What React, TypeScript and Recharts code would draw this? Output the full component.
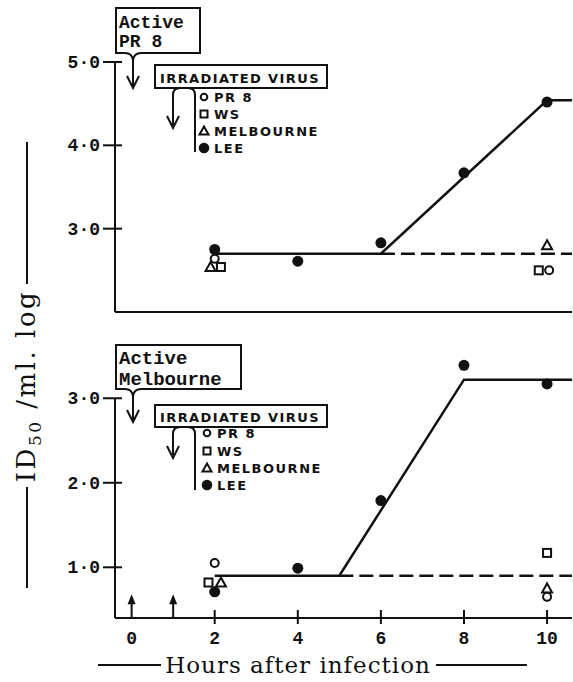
import React from 'react';
import { ComposedChart, Line, Scatter, XAxis, YAxis, ReferenceLine } from 'recharts';

// hours after infection
const hourTicks = [0, 2, 4, 6, 8, 10];
const arrowHours = [0, 1];

// top panel - active PR 8 (log ID50/ml)
const topTicks = [3, 4, 5];
const topLeeHours = [2, 4, 6, 8, 10];
const topLeeLog = [2.75, 2.61, 2.83, 3.67, 4.52];
const topPr8Hours = [2, 10.05];
const topPr8Log = [2.64, 2.5];
const topWsHours = [2.15, 9.8];
const topWsLog = [2.54, 2.5];
const topMelbHours = [1.9, 10];
const topMelbLog = [2.54, 2.8];
const topFitHours = [2, 6, 10, 10.6];
const topFitLog = [2.7, 2.7, 4.54, 4.54];
const topBaseHours = [6, 10.6];
const topBaseLog = [2.7, 2.7];

// bottom panel - active Melbourne
const botTicks = [1, 2, 3];
const botLeeHours = [2, 4, 6, 8, 10];
const botLeeLog = [0.71, 0.99, 1.79, 3.39, 3.17];
const botPr8Hours = [2, 10];
const botPr8Log = [1.05, 0.65];
const botWsHours = [1.85, 10];
const botWsLog = [0.82, 1.17];
const botMelbHours = [2.15, 10];
const botMelbLog = [0.82, 0.75];
const botFitHours = [2, 5, 8, 10.6];
const botFitLog = [0.9, 0.9, 3.22, 3.22];
const botBaseHours = [5, 10.6];
const botBaseLog = [0.9, 0.9];

const legendNames = ['PR 8', 'WS', 'MELBOURNE', 'LEE'];

const pts = (xs: number[], ys: number[]) => xs.map((x, i) => ({ x, y: ys[i] }));

const INK = '#111';
const numFont = '"Liberation Mono", monospace';

const Dot = (p: any) => <circle cx={p.cx} cy={p.cy} r={5.5} fill={INK} />;
const Ring = (p: any) => <circle cx={p.cx} cy={p.cy} r={4} fill="#fff" stroke={INK} strokeWidth={2} />;
const Sq = (p: any) => <rect x={p.cx - 4} y={p.cy - 4} width={8} height={8} fill="#fff" stroke={INK} strokeWidth={2} />;
const Tri = (p: any) => (
  <path d={`M${p.cx},${p.cy - 5} L${p.cx + 5},${p.cy + 4} L${p.cx - 5},${p.cy + 4} Z`} fill="#fff" stroke={INK} strokeWidth={2} />
);

const YTick = (p: any) => {
  const { x, y, payload } = p;
  return (
    <g>
      <line x1={x - 12} x2={x + 7} y1={y} y2={y} stroke={INK} strokeWidth={2} />
      <text x={x - 15} y={y} dy={6} textAnchor="end" fontFamily={numFont} fontWeight="bold" fontSize={18} fill={INK}>
        {payload.value.toFixed(1).replace('.', '·')}
      </text>
    </g>
  );
};

const XTick = (p: any) => {
  const { x, y, payload } = p;
  return (
    <g>
      {payload.value !== 0 && <line x1={x} x2={x} y1={y - 8} y2={y + 6} stroke={INK} strokeWidth={2} />}
      <text x={x} y={y + 26} textAnchor="middle" fontFamily={numFont} fontWeight="bold" fontSize={18} fill={INK}>
        {payload.value}
      </text>
    </g>
  );
};

const UpArrow = (p: any) => {
  const { x1, y1, y2 } = p;
  const tip = Math.min(y1, y2);
  const base = Math.max(y1, y2);
  return (
    <g>
      <line x1={x1} x2={x1} y1={base} y2={tip + 4} stroke={INK} strokeWidth={2} />
      <path d={`M${x1 - 4},${tip + 10} L${x1},${tip} L${x1 + 4},${tip + 10} Z`} fill={INK} />
    </g>
  );
};

const series = (lee: any[], pr8: any[], ws: any[], melb: any[], fit: any[], base: any[]) => [
  <Line key="fit" data={fit} dataKey="y" type="linear" stroke={INK} strokeWidth={2.5} dot={false} activeDot={false} isAnimationActive={false} />,
  <Line key="base" data={base} dataKey="y" type="linear" stroke={INK} strokeWidth={2.5} strokeDasharray="14 6" dot={false} activeDot={false} isAnimationActive={false} />,
  <Scatter key="ws" data={ws} dataKey="y" shape={Sq} isAnimationActive={false} />,
  <Scatter key="melb" data={melb} dataKey="y" shape={Tri} isAnimationActive={false} />,
  <Scatter key="pr8" data={pr8} dataKey="y" shape={Ring} isAnimationActive={false} />,
  <Scatter key="lee" data={lee} dataKey="y" shape={Dot} isAnimationActive={false} />,
];

const LegendSym = ({ i, x, y }: { i: number; x: number; y: number }) => {
  if (i === 0) return <circle cx={x} cy={y} r={3.3} fill="none" stroke={INK} strokeWidth={2} />;
  if (i === 1) return <rect x={x - 3.5} y={y - 3.5} width={7} height={7} fill="none" stroke={INK} strokeWidth={2} />;
  if (i === 2) return <path d={`M${x},${y - 4.5} L${x + 4.5},${y + 3.5} L${x - 4.5},${y + 3.5} Z`} fill="none" stroke={INK} strokeWidth={2} />;
  return <circle cx={x} cy={y} r={4.3} fill={INK} />;
};

const Annotation = ({ boxTop, boxBottom, boxRight, lines, fontSize, baselines, irrTop, irrBottom, arrowTip, barEnd, rows, symX, textX }: any) => {
  const ax = 133;
  const bx = 173;
  const rx = 195;
  return (
    <g fill="none" stroke={INK} strokeWidth={2}>
      <path d={`M116,${boxTop} H${boxRight} V${boxBottom} H141 Q134,${boxBottom} ${ax},${boxBottom + 7} Q132,${boxBottom} 125,${boxBottom} H116 Z`} />
      <line x1={ax} x2={ax} y1={boxBottom + 7} y2={arrowTip(0)} />
      <path d={`M${ax - 6},${arrowTip(0) - 11} L${ax},${arrowTip(0) + 1} L${ax + 6},${arrowTip(0) - 11}`} />
      <text x={119} y={baselines[0]} stroke="none" fill={INK} fontFamily={numFont} fontWeight="bold" fontSize={fontSize}>{lines[0]}</text>
      <text x={119} y={baselines[1]} stroke="none" fill={INK} fontFamily={numFont} fontWeight="bold" fontSize={fontSize}>{lines[1]}</text>
      <rect x={155} y={irrTop} width={172} height={irrBottom - irrTop} />
      <text x={160} y={irrBottom - 5} stroke="none" fill={INK} fontFamily='"DejaVu Sans", sans-serif' fontWeight="bold" fontSize={13} letterSpacing={1.4}>
        IRRADIATED VIRUS
      </text>
      <path d={`M${bx},${arrowTip(1) - 2} V${irrBottom + 7} Q${bx},${irrBottom} ${bx + 7},${irrBottom} H${rx - 7} Q${rx},${irrBottom} ${rx},${irrBottom + 7} V${barEnd}`} />
      <path d={`M${bx - 6},${arrowTip(1) - 11} L${bx},${arrowTip(1) + 1} L${bx + 6},${arrowTip(1) - 11}`} />
      {legendNames.map((n, i) => (
        <g key={n}>
          <LegendSym i={i} x={symX} y={rows[i]} />
          <text x={textX} y={rows[i] + 5} stroke="none" fill={INK} fontFamily='"DejaVu Sans", sans-serif' fontWeight="bold" fontSize={13} letterSpacing={1.5}>
            {n}
          </text>
        </g>
      ))}
    </g>
  );
};

export default function App() {
  const xDomain = [-0.4, 10.6];
  return (
    <div style={{ position: 'absolute', left: 0, top: 0, width: 573, height: 682, background: '#fff' }}>
      <div style={{ position: 'absolute', left: 0, top: 0 }}>
        <ComposedChart width={573} height={330} margin={{ top: 62, right: 1, bottom: 17, left: 0 }}>
          <XAxis type="number" dataKey="x" domain={xDomain} height={1} tick={false} tickLine={false} axisLine={{ stroke: INK, strokeWidth: 2 }} />
          <YAxis type="number" dataKey="y" domain={[2, 5]} ticks={topTicks} width={115} tickSize={0} tickMargin={0} tickLine={false} tick={YTick} interval={0} axisLine={{ stroke: INK, strokeWidth: 2 }} />
          {series(
            pts(topLeeHours, topLeeLog),
            pts(topPr8Hours, topPr8Log),
            pts(topWsHours, topWsLog),
            pts(topMelbHours, topMelbLog),
            pts(topFitHours, topFitLog),
            pts(topBaseHours, topBaseLog)
          )}
        </ComposedChart>
      </div>
      <div style={{ position: 'absolute', left: 0, top: 330 }}>
        <ComposedChart width={573} height={352} margin={{ top: 26, right: 1, bottom: 34, left: 0 }}>
          <XAxis type="number" dataKey="x" domain={xDomain} ticks={hourTicks} interval={0} height={30} tickSize={0} tickMargin={0} tickLine={false} tick={XTick} axisLine={{ stroke: INK, strokeWidth: 2 }} />
          <YAxis type="number" dataKey="y" domain={[0.4, 3.5]} allowDataOverflow ticks={botTicks} width={115} tickSize={0} tickMargin={0} tickLine={false} tick={YTick} interval={0} axisLine={false} />
          <ReferenceLine segment={[{ x: -0.4, y: 0.4 }, { x: -0.4, y: 3 }]} stroke={INK} strokeWidth={2} ifOverflow="visible" />
          {arrowHours.map((h) => (
            <ReferenceLine key={h} segment={[{ x: h, y: 0.4 }, { x: h, y: 0.68 }]} shape={UpArrow} ifOverflow="visible" />
          ))}
          {series(
            pts(botLeeHours, botLeeLog),
            pts(botPr8Hours, botPr8Log),
            pts(botWsHours, botWsLog),
            pts(botMelbHours, botMelbLog),
            pts(botFitHours, botFitLog),
            pts(botBaseHours, botBaseLog)
          )}
        </ComposedChart>
      </div>
      <svg width={573} height={682} style={{ position: 'absolute', left: 0, top: 0, pointerEvents: 'none' }}>
        <Annotation
          boxTop={8} boxBottom={53} boxRight={200} lines={['Active', 'PR 8']} fontSize={18} baselines={[28, 47]}
          irrTop={65} irrBottom={88} arrowTip={(i: number) => (i === 0 ? 87 : 127)} barEnd={152}
          rows={[97, 114, 131, 148]} symX={204} textX={214}
        />
        <Annotation
          boxTop={345} boxBottom={389} boxRight={241} lines={['Active', 'Melbourne']} fontSize={19} baselines={[364, 385]}
          irrTop={405} irrBottom={427} arrowTip={(i: number) => (i === 0 ? 421 : 457)} barEnd={490}
          rows={[433, 451, 468, 485]} symX={207} textX={217}
        />
        <g stroke={INK} strokeWidth={2}>
          <line x1={27} x2={27} y1={142} y2={284} />
          <line x1={27} x2={27} y1={487} y2={588} />
          <line x1={98} x2={161} y1={665} y2={665} />
          <line x1={436} x2={527} y1={665} y2={665} />
        </g>
        <text transform="translate(35,386) rotate(-90)" textAnchor="middle" fontFamily='"DejaVu Serif", serif' fontSize={26} letterSpacing={2.5} fill={INK}>
          ID<tspan fontSize={17} dy={6}>50</tspan>
          <tspan dy={-6}> /ml. log</tspan>
        </text>
        <text x={298} y={673} textAnchor="middle" fontFamily='"DejaVu Serif", serif' fontSize={23} letterSpacing={1} fill={INK}>
          Hours after infection
        </text>
      </svg>
    </div>
  );
}
